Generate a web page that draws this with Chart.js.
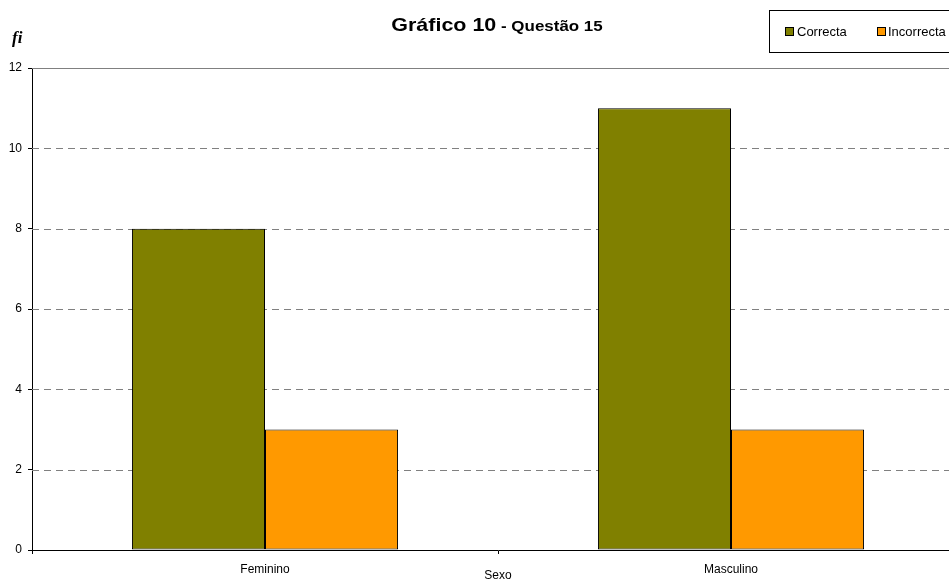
<!DOCTYPE html>
<html>
<head>
<meta charset="utf-8">
<script src="https://cdn.jsdelivr.net/npm/chart.js@4/dist/chart.umd.min.js"></script>
<style>
  html, body { margin: 0; padding: 0; background: #fff; overflow: hidden; }
  #wrap { width: 966px; height: 583px; }
</style>
</head>
<body>
<div id="wrap"><canvas id="c" width="966" height="583"></canvas></div>
<script>
const categories = ["Feminino", "Masculino"];
const seriesNames = ["Correcta", "Incorrecta"];
const correcta = [8, 11];
const incorrecta = [3, 3];
const yTicks = [0, 2, 4, 6, 8, 10, 12];
const titleMain = "Gráfico 10";
const titleSub = " - Questão 15";
const yLabel = "fi";
const xLabel = "Sexo";

const colors = ["#808000", "#FF9900"];
const FONT = "'Liberation Sans', Arial, sans-serif";

const decor = {
  id: 'decor',
  beforeDatasetsDraw(chart) {
    const ctx = chart.ctx, y = chart.scales.y, a = chart.chartArea;
    ctx.save();
    ctx.lineWidth = 1;
    ctx.strokeStyle = '#808080';
    yTicks.forEach(v => {
      if (v === 0) return;
      const py = Math.round(y.getPixelForValue(v)) + 0.5;
      ctx.setLineDash(v === yTicks[yTicks.length - 1] ? [] : [7, 5]);
      ctx.beginPath();
      ctx.moveTo(a.left, py);
      ctx.lineTo(a.right, py);
      ctx.stroke();
    });
    ctx.restore();
  },
  afterDraw(chart) {
    const ctx = chart.ctx;
    ctx.save();
    ctx.fillStyle = '#000';
    ctx.textBaseline = 'alphabetic';
    ctx.font = "bold 19px " + FONT;
    const w1 = ctx.measureText(titleMain).width;
    ctx.font = "bold 15px " + FONT;
    const w2 = ctx.measureText(titleSub).width;
    const sx = 1.13;
    const total = (w1 + w2) * sx;
    const x0 = 497 - total / 2;
    ctx.translate(x0, 31);
    ctx.scale(sx, 1);
    ctx.font = "bold 19px " + FONT;
    ctx.fillText(titleMain, 0, 0);
    ctx.font = "bold 15px " + FONT;
    ctx.fillText(titleSub, w1, 0);
    ctx.setTransform(1, 0, 0, 1, 0, 0);
    ctx.font = "italic bold 17px 'Liberation Serif', 'Times New Roman', serif";
    ctx.fillText(yLabel, 12, 43);
    ctx.strokeStyle = '#000';
    ctx.lineWidth = 1;
    ctx.strokeRect(769.5, 10.5, 200, 42);
    ctx.font = "13px " + FONT;
    const items = [[785, 797], [877, 888]];
    seriesNames.forEach((n, i) => {
      ctx.fillStyle = colors[i];
      ctx.fillRect(785 + (items[i][0] - 785), 27, 9, 9);
      ctx.strokeRect(items[i][0] + 0.5, 27.5, 8, 8);
      ctx.fillStyle = '#000';
      ctx.fillText(n, items[i][1], 36);
    });
    ctx.restore();
  }
};

new Chart(document.getElementById('c'), {
  type: 'bar',
  data: {
    labels: categories,
    datasets: [
      { label: seriesNames[0], data: correcta, backgroundColor: colors[0], borderColor: '#000', borderWidth: 1, borderSkipped: false, categoryPercentage: 0.571, barPercentage: 1 },
      { label: seriesNames[1], data: incorrecta, backgroundColor: colors[1], borderColor: '#000', borderWidth: 1, borderSkipped: false, categoryPercentage: 0.571, barPercentage: 1 }
    ]
  },
  options: {
    responsive: false,
    animation: false,
    layout: { padding: { top: 68, right: 2, left: 0, bottom: 0 } },
    plugins: { legend: { display: false }, title: { display: false }, tooltip: { enabled: false } },
    scales: {
      x: {
        offset: true,
        grid: { display: true, drawOnChartArea: false, drawTicks: true, tickLength: 4, color: '#000', offset: true },
        border: { display: true, color: '#000', width: 1 },
        ticks: { color: '#000', font: { family: FONT, size: 12 }, padding: 8, maxRotation: 0 },
        title: { display: true, text: xLabel, color: '#000', font: { family: FONT, size: 12 }, padding: { top: 0, bottom: 0 } },
        afterFit(s) { s.height = 33; }
      },
      y: {
        min: 0, max: 12,
        afterBuildTicks(s) { s.ticks = yTicks.map(v => ({ value: v })); },
        grid: { display: true, drawOnChartArea: false, drawTicks: true, tickLength: 4, color: '#000' },
        border: { display: true, color: '#000', width: 1 },
        ticks: { color: '#000', font: { family: FONT, size: 12 }, padding: 6 },
        afterFit(s) { s.width = 32; }
      }
    }
  },
  plugins: [decor]
});
</script>
</body>
</html>
